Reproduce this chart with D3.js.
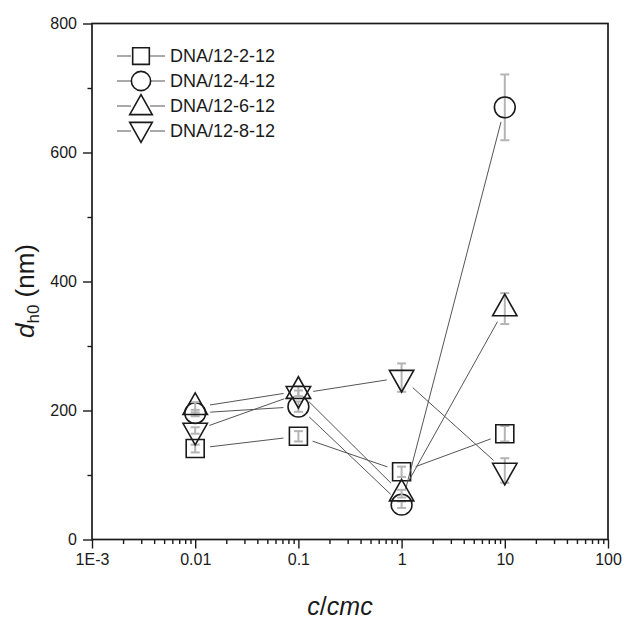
<!DOCTYPE html>
<meta charset="utf-8">
<style>
    body { margin: 0; background: #fff; }
    text { font-family: "Liberation Sans", Arial, sans-serif; fill: #1a1a1a; }
    .frame { fill: none; stroke: #1a1a1a; stroke-width: 1.7; }
    .axis path, .axis line { stroke: #1a1a1a; stroke-width: 1.4; }
    .conn { fill: none; stroke: #555; stroke-width: 1; }
    .err { stroke: #b4b4b4; stroke-width: 2; }
    .sym { fill: none; stroke: #1a1a1a; stroke-width: 1.6; }
</style>
<body></body>
<script src="https://d3js.org/d3.v7.min.js"></script>
<script>
    // data
    var cRatio = [0.01, 0.1, 1, 10];
    var seriesNames = ["DNA/12-2-12", "DNA/12-4-12", "DNA/12-6-12", "DNA/12-8-12"];
    var symbols = ["square", "circle", "up", "down"];
    var d12_2 = [141, 160, 105, 164];
    var e12_2 = [6, 8, 8, 12];
    var d12_4 = [196, 206, 54, 670];
    var e12_4 = [5, 8, 5, 51];
    var d12_6 = [205, 230, 71, 358];
    var e12_6 = [8, 8, 6, 24];
    var d12_8 = [169, 226, 251, 107];
    var e12_8 = [5, 5, 22, 19];
    var xTicks = [1e-3, 0.01, 0.1, 1, 10, 100];
    var xTickLabels = ["1E-3", "0.01", "0.1", "1", "10", "100"];
    var yTicks = [0, 200, 400, 600, 800];

    var W = 625, H = 620;
    var plotL = 92, plotR = 608, plotT = 23.5, plotB = 539.5;

    var svg = d3.select("body").append("svg")
        .attr("width", W).attr("height", H);

    var x = d3.scaleLog().domain([1e-3, 100]).range([plotL, plotR]);
    var y = d3.scaleLinear().domain([0, 800]).range([plotB, plotT]);

    // minor ticks
    var xMinor = [];
    for (var p = -3; p < 2; p++) {
        for (var k = 2; k < 10; k++) xMinor.push(k * Math.pow(10, p));
    }
    var yMinor = [100, 300, 500, 700];

    svg.append("g").attr("class", "axis")
        .attr("transform", "translate(0," + plotB + ")")
        .call(d3.axisBottom(x).tickValues(xMinor).tickSize(4.5).tickFormat(""))
        .select(".domain").remove();
    svg.append("g").attr("class", "axis")
        .attr("transform", "translate(" + plotL + ",0)")
        .call(d3.axisLeft(y).tickValues(yMinor).tickSize(4.5).tickFormat(""))
        .select(".domain").remove();

    var xAxis = svg.append("g").attr("class", "axis")
        .attr("transform", "translate(0," + plotB + ")")
        .call(d3.axisBottom(x).tickValues(xTicks).tickSize(9).tickPadding(5)
            .tickFormat(function(d, i) { return xTickLabels[i]; }));
    xAxis.select(".domain").remove();
    xAxis.selectAll("text").style("font-size", "16px").attr("fill", "#1a1a1a");

    var yAxis = svg.append("g").attr("class", "axis")
        .attr("transform", "translate(" + plotL + ",0)")
        .call(d3.axisLeft(y).tickValues(yTicks).tickSize(9).tickPadding(6));
    yAxis.select(".domain").remove();
    yAxis.selectAll("text").style("font-size", "16px").attr("fill", "#1a1a1a");

    svg.append("rect").attr("class", "frame")
        .attr("x", plotL).attr("y", plotT)
        .attr("width", plotR - plotL).attr("height", plotB - plotT);

    // axis titles
    var yt = svg.append("text")
        .attr("transform", "translate(34,291) rotate(-90)")
        .attr("text-anchor", "middle")
        .style("font-size", "26px");
    yt.append("tspan").style("font-style", "italic").text("d");
    yt.append("tspan").attr("dy", 5).style("font-size", "17px").text("h0");
    yt.append("tspan").attr("dy", -5).text(" (nm)");

    var xt = svg.append("text")
        .attr("x", 340).attr("y", 615)
        .attr("text-anchor", "middle")
        .style("font-size", "25px").style("font-style", "italic");
    xt.append("tspan").text("c");
    xt.append("tspan").style("font-style", "normal").text("/");
    xt.append("tspan").text("cmc");

    // marker shapes, centred on the data point
    function symPath(type, s) {
        if (type === "square") {
            var a = s * 0.9;
            return "M" + (-a / 2) + "," + (-a / 2) + "h" + a + "v" + a + "h" + (-a) + "Z";
        }
        if (type === "circle") {
            var r = s * 0.52;
            return "M" + r + ",0A" + r + "," + r + " 0 1,1 " + (-r) + ",0A" + r + "," + r + " 0 1,1 " + r + ",0Z";
        }
        var w = s * 1.22, h = s * 1.08;
        if (type === "up") {
            return "M0," + (-2 * h / 3) + "L" + (w / 2) + "," + (h / 3) + "L" + (-w / 2) + "," + (h / 3) + "Z";
        }
        return "M0," + (2 * h / 3) + "L" + (w / 2) + "," + (-h / 3) + "L" + (-w / 2) + "," + (-h / 3) + "Z";
    }

    var allSeries = [
        {name: seriesNames[0], sym: symbols[0], v: d12_2, e: e12_2},
        {name: seriesNames[1], sym: symbols[1], v: d12_4, e: e12_4},
        {name: seriesNames[2], sym: symbols[2], v: d12_6, e: e12_6},
        {name: seriesNames[3], sym: symbols[3], v: d12_8, e: e12_8}
    ];

    var gap = 15;
    allSeries.forEach(function(s) {
        var pts = cRatio.map(function(c, i) { return {c: c, v: s.v[i], e: s.e[i]}; });
        var g = svg.append("g");

        // error bars
        pts.forEach(function(d) {
            var px = x(d.c), y1 = y(d.v + d.e), y0 = y(d.v - d.e);
            g.append("line").attr("class", "err")
                .attr("x1", px).attr("x2", px).attr("y1", y1).attr("y2", y0);
            [y1, y0].forEach(function(yy) {
                g.append("line").attr("class", "err").attr("stroke-width", 1.5)
                    .attr("x1", px - 4.5).attr("x2", px + 4.5).attr("y1", yy).attr("y2", yy);
            });
        });

        // connecting lines with a gap at each symbol
        for (var i = 0; i < pts.length - 1; i++) {
            var ax = x(pts[i].c), ay = y(pts[i].v), bx = x(pts[i + 1].c), by = y(pts[i + 1].v);
            var len = Math.hypot(bx - ax, by - ay);
            if (len <= 2 * gap) continue;
            var ux = (bx - ax) / len, uy = (by - ay) / len;
            g.append("line").attr("class", "conn")
                .attr("x1", ax + ux * gap).attr("y1", ay + uy * gap)
                .attr("x2", bx - ux * gap).attr("y2", by - uy * gap);
        }

        g.selectAll(".sym").data(pts).enter().append("path")
            .attr("class", "sym")
            .attr("transform", function(d) { return "translate(" + x(d.c) + "," + y(d.v) + ")"; })
            .attr("d", symPath(s.sym, 20));
    });

    // legend
    var legY = [56, 81, 106, 131];
    var leg = svg.append("g");
    allSeries.forEach(function(s, i) {
        var ly = legY[i];
        leg.append("line").attr("class", "conn")
            .attr("x1", 117).attr("x2", 131).attr("y1", ly).attr("y2", ly);
        leg.append("line").attr("class", "conn")
            .attr("x1", 150).attr("x2", 165).attr("y1", ly).attr("y2", ly);
        var dy = s.sym === "up" ? 2 : (s.sym === "down" ? -2 : 0);
        leg.append("path").attr("class", "sym")
            .attr("transform", "translate(141," + (ly + dy) + ")")
            .attr("d", symPath(s.sym, 18.5));
        leg.append("text").attr("x", 170).attr("y", ly).attr("dy", "0.36em")
            .style("font-size", "18px").text(s.name);
    });
</script>
